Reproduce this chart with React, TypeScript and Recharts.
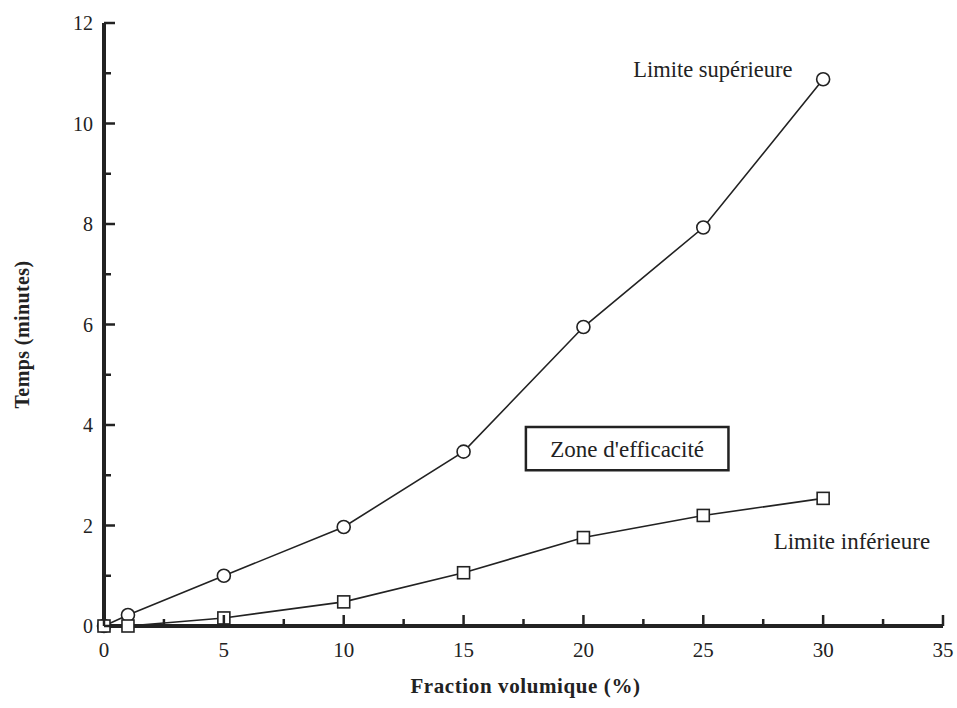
import React from "react";
import {
  ComposedChart,
  Line,
  XAxis,
  YAxis,
  ReferenceArea,
  ReferenceDot,
  Label,
} from "recharts";

const fractions = [0, 1, 5, 10, 15, 20, 25, 30];
const upperLimit = [0, 0.22, 1.0, 1.97, 3.47, 5.95, 7.93, 10.88];
const lowerLimit = [0, 0, 0.16, 0.48, 1.06, 1.76, 2.2, 2.54];

const xTicks = [0, 2.5, 5, 7.5, 10, 12.5, 15, 17.5, 20, 22.5, 25, 27.5, 30, 32.5, 35];
const xMajor = [0, 5, 10, 15, 20, 25, 30, 35];
const yTicks = [0, 1, 2, 3, 4, 5, 6, 7, 8, 9, 10, 11, 12];
const yMajor = [0, 2, 4, 6, 8, 10, 12];

const xTitle = "Fraction volumique (%)";
const yTitle = "Temps (minutes)";
const upperName = "Limite supérieure";
const lowerName = "Limite inférieure";
const zoneName = "Zone d'efficacité";

const data = fractions.map((f, i) => ({ f, upper: upperLimit[i], lower: lowerLimit[i] }));

const FONT = "Liberation Serif";
const INK = "#222";

const XTick = (props: any) => {
  const { x, y, payload } = props;
  const major = xMajor.includes(payload.value);
  return (
    <g>
      <line x1={x} x2={x} y1={y} y2={y - (major ? 11 : 7)} stroke={INK} strokeWidth={2.5} />
      {major && (
        <text x={x} y={y + 31} textAnchor="middle" style={{ fontFamily: FONT }} fontSize={21} fill={INK}>
          {payload.value}
        </text>
      )}
    </g>
  );
};

const YTick = (props: any) => {
  const { x, y, payload } = props;
  const major = yMajor.includes(payload.value);
  return (
    <g>
      <line x1={x} x2={x + (major ? 11 : 7)} y1={y} y2={y} stroke={INK} strokeWidth={2.5} />
      {major && (
        <text x={x - 11} y={y} dy="0.35em" textAnchor="end" style={{ fontFamily: FONT }} fontSize={20} fill={INK}>
          {payload.value}
        </text>
      )}
    </g>
  );
};

const CircleDot = (props: any) => {
  const { cx, cy, index } = props;
  return <circle key={`c${index}`} cx={cx} cy={cy} r={6.5} fill="#fff" stroke={INK} strokeWidth={1.6} />;
};

const SquareDot = (props: any) => {
  const { cx, cy, index } = props;
  return (
    <rect key={`s${index}`} x={cx - 6} y={cy - 6} width={12} height={12} fill="#fff" stroke={INK} strokeWidth={1.6} />
  );
};

const TextLabel = (text: string, size: number) => (p: any) => {
  const vb = p.viewBox;
  const cx = vb.x + (vb.width || 0) / 2;
  const cy = vb.y + (vb.height || 0) / 2;
  return (
    <text
      x={cx}
      y={cy}
      dy="0.35em"
      textAnchor="middle"
      style={{ fontFamily: FONT }}
      fontSize={size}
      fill={INK}
    >
      {text}
    </text>
  );
};

export default function App() {
  return (
    <div style={{ position: "absolute", left: 0, top: 0, width: 957, height: 708, background: "#fff" }}>
      <ComposedChart
        width={957}
        height={708}
        data={data}
        margin={{ top: 23, right: 14, bottom: 0, left: 0 }}
      >
        <XAxis
          dataKey="f"
          type="number"
          domain={[0, 35]}
          ticks={xTicks}
          interval={0}
          height={82}
          tickSize={0}
          tickMargin={0}
          tickLine={false}
          tick={<XTick />}
          axisLine={{ stroke: INK, strokeWidth: 4 }}
        >
          <Label
            content={(p: any) => {
              const vb = p.viewBox;
              return (
                <text
                  x={vb.x + vb.width / 2 + 2}
                  y={vb.y + 67}
                  textAnchor="middle"
                  style={{ fontFamily: FONT, letterSpacing: 0.6 }}
                  fontWeight="bold"
                  fontSize={21}
                  fill={INK}
                >
                  {xTitle}
                </text>
              );
            }}
          />
        </XAxis>
        <XAxis
          xAxisId="top"
          orientation="top"
          type="number"
          domain={[0, 35]}
          height={0}
          tick={false}
          tickLine={false}
          axisLine={{ stroke: INK, strokeWidth: 4 }}
        />
        <YAxis
          type="number"
          domain={[0, 12]}
          ticks={yTicks}
          interval={0}
          width={104}
          tickSize={0}
          tickMargin={0}
          tickLine={false}
          tick={<YTick />}
          axisLine={{ stroke: INK, strokeWidth: 4 }}
        >
          <Label
            content={(p: any) => {
              const vb = p.viewBox;
              const cx = 22;
              const cy = vb.y + vb.height / 2 + 10;
              return (
                <text
                  x={cx}
                  y={cy}
                  transform={`rotate(-90, ${cx}, ${cy})`}
                  textAnchor="middle"
                  dominantBaseline="central"
                  style={{ fontFamily: FONT, letterSpacing: 0.4 }}
                  fontWeight="bold"
                  fontSize={20}
                  fill={INK}
                >
                  {yTitle}
                </text>
              );
            }}
          />
        </YAxis>
        <YAxis
          yAxisId="right"
          orientation="right"
          type="number"
          domain={[0, 12]}
          width={0}
          tick={false}
          tickLine={false}
          axisLine={{ stroke: INK, strokeWidth: 4 }}
        />
        <ReferenceArea
          x1={17.6}
          x2={26.05}
          y1={3.1}
          y2={3.96}
          fill="#fff"
          fillOpacity={1}
          stroke={INK}
          strokeWidth={2.5}
          label={<Label content={TextLabel(zoneName, 23)} />}
        />
        <ReferenceDot
          x={25.4}
          y={11.08}
          r={0}
          fill="none"
          stroke="none"
          label={<Label content={TextLabel(upperName, 22.5)} />}
        />
        <ReferenceDot
          x={31.2}
          y={1.7}
          r={0}
          fill="none"
          stroke="none"
          label={<Label content={TextLabel(lowerName, 23)} />}
        />
        <Line
          dataKey="upper"
          type="linear"
          stroke={INK}
          strokeWidth={1.6}
          dot={<CircleDot />}
          isAnimationActive={false}
        />
        <Line
          dataKey="lower"
          type="linear"
          stroke={INK}
          strokeWidth={1.6}
          dot={<SquareDot />}
          isAnimationActive={false}
        />
      </ComposedChart>
    </div>
  );
}
